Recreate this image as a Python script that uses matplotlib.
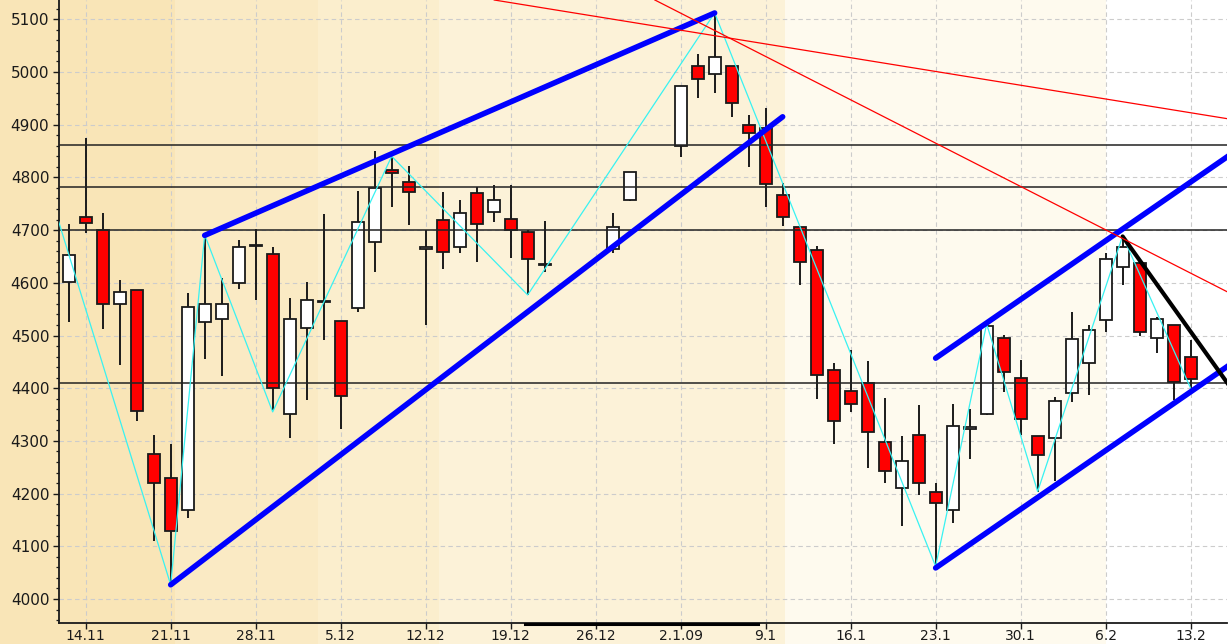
# DAX daily candles, Nov 2008 - Feb 2009, with hand-drawn trend lines
import matplotlib
matplotlib.use("Agg")
import matplotlib.pyplot as plt
import matplotlib.transforms as mtransforms
from matplotlib.ticker import MultipleLocator
import numpy as np

# trading days (holidays 24-26.12, 31.12, 1.1 are simply missing)
dates = ["2008-11-13", "2008-11-14", "2008-11-17", "2008-11-18", "2008-11-19", "2008-11-20",
         "2008-11-21", "2008-11-24", "2008-11-25", "2008-11-26", "2008-11-27", "2008-11-28",
         "2008-12-01", "2008-12-02", "2008-12-03", "2008-12-04", "2008-12-05", "2008-12-08",
         "2008-12-09", "2008-12-10", "2008-12-11", "2008-12-12", "2008-12-15", "2008-12-16",
         "2008-12-17", "2008-12-18", "2008-12-19", "2008-12-22", "2008-12-23", "2008-12-29",
         "2008-12-30", "2009-01-02", "2009-01-05", "2009-01-06", "2009-01-07", "2009-01-08",
         "2009-01-09", "2009-01-12", "2009-01-13", "2009-01-14", "2009-01-15", "2009-01-16",
         "2009-01-19", "2009-01-20", "2009-01-21", "2009-01-22", "2009-01-23", "2009-01-26",
         "2009-01-27", "2009-01-28", "2009-01-29", "2009-01-30", "2009-02-02", "2009-02-03",
         "2009-02-04", "2009-02-05", "2009-02-06", "2009-02-09", "2009-02-10", "2009-02-11",
         "2009-02-12", "2009-02-13"]
opens = [4601, 4725, 4700, 4560, 4586, 4276, 4229, 4169, 4526, 4531, 4599, 4669,
         4654, 4352, 4514, 4563, 4528, 4552, 4677, 4814, 4792, 4665, 4719, 4667,
         4770, 4735, 4722, 4696, 4633, 4664, 4758, 4860, 5011, 4997, 5011, 4899,
         4893, 4766, 4705, 4662, 4435, 4395, 4409, 4297, 4211, 4312, 4203, 4169,
         4322, 4352, 4495, 4419, 4310, 4305, 4390, 4448, 4529, 4630, 4638, 4495,
         4519, 4459]
highs = [4712, 4874, 4733, 4605, 4586, 4311, 4295, 4580, 4691, 4610, 4681, 4702,
         4667, 4571, 4602, 4731, 4528, 4775, 4851, 4839, 4822, 4700, 4773, 4757,
         4781, 4786, 4786, 4700, 4718, 4733, 4811, 4974, 5035, 5112, 5011, 4918,
         4931, 4790, 4705, 4670, 4448, 4473, 4452, 4381, 4310, 4368, 4220, 4370,
         4361, 4522, 4501, 4453, 4310, 4384, 4545, 4520, 4657, 4689, 4645, 4536,
         4519, 4491]
lows = [4525, 4694, 4512, 4444, 4338, 4111, 4030, 4153, 4455, 4423, 4588, 4567,
        4358, 4305, 4378, 4491, 4322, 4545, 4621, 4744, 4710, 4520, 4627, 4656,
        4640, 4716, 4648, 4577, 4621, 4656, 4755, 4838, 4950, 4961, 4914, 4820,
        4744, 4708, 4596, 4380, 4295, 4355, 4249, 4221, 4139, 4197, 4062, 4145,
        4266, 4350, 4393, 4311, 4204, 4223, 4373, 4387, 4507, 4596, 4500, 4466,
        4378, 4400]
closes = [4653, 4714, 4560, 4582, 4357, 4221, 4130, 4555, 4560, 4560, 4667, 4671,
          4400, 4531, 4567, 4565, 4385, 4716, 4779, 4808, 4772, 4667, 4659, 4733,
          4712, 4758, 4701, 4645, 4635, 4705, 4811, 4974, 4987, 5029, 4941, 4884,
          4787, 4724, 4640, 4425, 4338, 4370, 4317, 4242, 4261, 4221, 4182, 4328,
          4326, 4518, 4430, 4342, 4273, 4376, 4493, 4510, 4646, 4667, 4507, 4532,
          4411, 4417]

tick_dates = ["2008-11-14", "2008-11-21", "2008-11-28", "2008-12-05", "2008-12-12",
              "2008-12-19", "2008-12-26", "2009-01-02", "2009-01-09", "2009-01-16",
              "2009-01-23", "2009-01-30", "2009-02-06", "2009-02-13"]
tick_labels = ["14.11", "21.11", "28.11", "5.12", "12.12", "19.12", "26.12",
               "2.1.09", "9.1", "16.1", "23.1", "30.1", "6.2", "13.2"]

levels = [4862, 4781, 4700, 4410]

zigzag_dates = ["2008-11-12", "2008-11-21", "2008-11-25", "2008-12-01", "2008-12-10",
                "2008-12-22", "2009-01-06", "2009-01-23", "2009-01-28", "2009-02-02",
                "2009-02-09", "2009-02-13"]
zigzag_vals = [4759, 4027, 4691, 4355, 4840, 4577, 5112, 4062, 4522, 4204, 4689, 4400]

# thick blue trend lines (start, end)
blue_lines = [(("2008-11-25", 4690), ("2009-01-06", 5112)),
              (("2008-11-21", 4027), ("2009-01-12", 4915)),
              (("2009-01-23", 4457), ("2009-02-18", 4858)),
              (("2009-01-23", 4059), ("2009-02-18", 4460))]
black_line = (("2009-02-09", 4688), ("2009-02-18", 4372))
# thin red lines, given by two points and extended
red_lines = [(("2009-01-12", 5048), ("2009-02-18", 4907)),
             (("2009-01-12", 5013), ("2009-02-18", 4569))]

BASE = "2008-11-14"


def pos(d):
    return np.busday_count(BASE, d)


x = pos(dates)
o = np.array(opens, float)
h = np.array(highs, float)
l = np.array(lows, float)
c = np.array(closes, float)

fig = plt.figure(figsize=(12.28, 6.44), dpi=100)
band_colors = ["#F9E5B7", "#FAEAC4", "#FBEECD", "#FCF2D8", "#FEFAEE", "#FFFFFF"]
band_edges = [-1.57, 5.25, 13.66, 20.78, 41.14, 60.02, 68.0]
fig.patch.set_facecolor(band_colors[0])
ax = fig.add_axes([59 / 1228, 21 / 644, 1168 / 1228, 623 / 644])
ax.patch.set_alpha(0)

for i, col in enumerate(band_colors):
    ax.axvspan(band_edges[i], band_edges[i + 1], ymin=-0.05, ymax=1.0,
               color=col, lw=0, zorder=0.1, clip_on=False)

ax.set_xlim(-1.57, 67.14)
ax.set_ylim(3954.5, 5136.6)

ax.grid(True, color="#cccccc", lw=0.8, ls=(0, (4, 3)))
ax.set_axisbelow(True)

# candles
ax.vlines(x, l, h, color="#1a1a1a", lw=1.4, zorder=2)
up = c >= o
body_bottom = np.minimum(o, c)
body_h = np.maximum(np.abs(c - o), 1.5)
ax.bar(x, body_h, bottom=body_bottom, width=0.72,
       color=np.where(up, "white", "#FF0000"), edgecolor="#1a1a1a", lw=1.3, zorder=3)

for lv in levels:
    ax.axhline(lv, color="#222222", lw=1.1, zorder=4)

ax.plot(pos(zigzag_dates), zigzag_vals, color="#38F2F2", lw=0.9, zorder=5)

for (d1, v1), (d2, v2) in blue_lines:
    ax.plot([pos(d1), pos(d2)], [v1, v2], color="#0000FF", lw=4.0,
            solid_capstyle="round", zorder=6)

(d1, v1), (d2, v2) = black_line
ax.plot([pos(d1), pos(d2)], [v1, v2], color="black", lw=3.0,
        solid_capstyle="round", zorder=6)

for (d1, v1), (d2, v2) in red_lines:
    ax.axline((pos(d1), v1), (pos(d2), v2), color="#FF0000", lw=0.9, zorder=6)

# dark bar under the axis (holiday range marker)
trans = mtransforms.blended_transform_factory(ax.transData, ax.transAxes)
ax.plot([25.84, 39.55], [-0.002, -0.002], color="black", lw=2.2,
        transform=trans, clip_on=False, zorder=7)

ax.set_xticks(pos(tick_dates))
ax.set_xticklabels(tick_labels)
ax.set_yticks(np.arange(4000, 5101, 100))
ax.yaxis.set_minor_locator(MultipleLocator(20))

ax.tick_params(axis="y", which="major", length=4, width=1.0, pad=3,
               labelsize=11, colors="#1a1a1a")
ax.tick_params(axis="y", which="minor", length=2.5, width=0.9, colors="#1a1a1a")
ax.tick_params(axis="x", which="major", length=4, width=1.0, pad=0.5,
               labelsize=10, colors="#1a1a1a")

for side in ["top", "right"]:
    ax.spines[side].set_visible(False)
for side in ["left", "bottom"]:
    ax.spines[side].set_color("#1a1a1a")
    ax.spines[side].set_linewidth(1.3)

fig.savefig("out.png", dpi=100, facecolor=fig.get_facecolor())
plt.close(fig)
